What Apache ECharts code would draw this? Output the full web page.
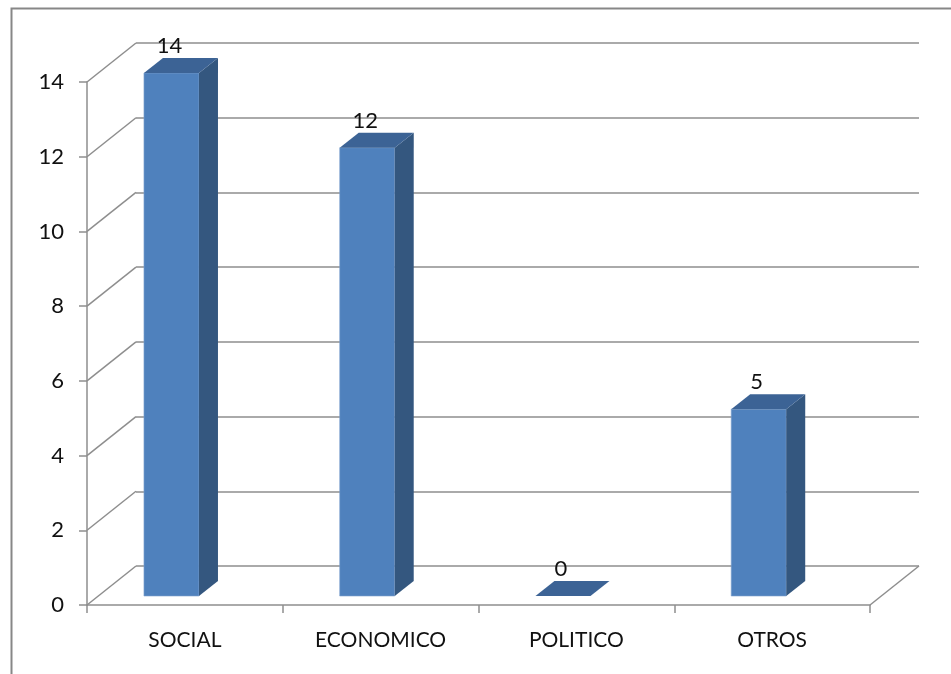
<!DOCTYPE html>
<html>
<head>
<meta charset="utf-8">
<script src="https://cdn.jsdelivr.net/npm/echarts@6/dist/echarts.min.js"></script>
<style>
  html, body { margin: 0; padding: 0; background: #ffffff; }
  #chart { width: 951px; height: 674px; }
</style>
</head>
<body>
<div id="chart"></div>
<script>
// Chart data
const categories = ['SOCIAL', 'ECONOMICO', 'POLITICO', 'OTROS'];
const values = [14, 12, 0, 5];
const yTicks = [0, 2, 4, 6, 8, 10, 12, 14];

const FONT = 'Lato';
const GRID_LINE = '#8e8e8e';
// Floor depth: offset from the front edge to the back wall, in pixels
const DEPTH = [49, -39];
// Box sides
const FACE = '#4f81bd', SIDE = '#34577f', TOP = '#3c6395';

const chart = echarts.init(document.getElementById('chart'), null, { renderer: 'canvas' });

const front = { left: 87, top: 82, right: 81, bottom: 69 };
const back = {
  left: front.left + DEPTH[0], top: front.top + DEPTH[1],
  right: front.right - DEPTH[0], bottom: front.bottom - DEPTH[1]
};

// Oblique lines from the front value axis to the back wall, plus the floor's right edge
function renderDiagonals(params, api) {
  const v = api.value(1);
  const band = api.size([1, 0])[0];
  const p = api.coord([0, v]);
  const x = p[0] - band / 2;
  const style = { stroke: GRID_LINE, lineWidth: 1.5 };
  const children = [{
    type: 'line',
    shape: { x1: x, y1: p[1], x2: x + DEPTH[0], y2: p[1] + DEPTH[1] },
    style
  }];
  if (v === 0) {
    const q = api.coord([categories.length - 1, 0]);
    const xr = q[0] + band / 2;
    children.push({
      type: 'line',
      shape: { x1: xr, y1: q[1], x2: xr + DEPTH[0], y2: q[1] + DEPTH[1] },
      style
    });
  }
  return { type: 'group', children };
}

// 3D column: front face, right side, top, and a value label
function renderBox(params, api) {
  const i = api.value(0), v = api.value(1);
  const band = api.size([1, 0])[0];
  const base = api.coord([i, 0]);
  const head = api.coord([i, v]);
  const lift = 9;               // column stands slightly behind the front edge
  const dx = 19, dy = -15;      // column depth
  const x0 = base[0] - band * 0.209;
  const x1 = x0 + band * 0.281;
  const yb = base[1] - lift, yt = head[1] - lift;
  const children = [];
  if (yb - yt > 0.5) {
    children.push({
      type: 'polygon',
      shape: { points: [[x0, yb], [x1, yb], [x1, yt], [x0, yt]] },
      style: { fill: FACE, stroke: '#7fa2cf', lineWidth: 0.6 }
    });
    children.push({
      type: 'polygon',
      shape: { points: [[x1, yb], [x1 + dx, yb + dy], [x1 + dx, yt + dy], [x1, yt]] },
      style: { fill: SIDE }
    });
  }
  children.push({
    type: 'polygon',
    shape: { points: [[x0, yt], [x1, yt], [x1 + dx, yt + dy], [x0 + dx, yt + dy]] },
    style: { fill: TOP }
  });
  children.push({
    type: 'text',
    style: {
      x: (x0 + x1) / 2 - 2, y: yt - 27,
      text: String(v), fill: '#111', font: '22px "' + FONT + '"',
      align: 'center', verticalAlign: 'middle'
    }
  });
  return { type: 'group', children };
}

const option = {
  backgroundColor: '#ffffff',
  animation: false,
  graphic: [{
    type: 'rect', left: 9, top: 6, silent: true, z: -10,
    shape: { width: 1200, height: 1000 },
    style: { fill: 'none', stroke: '#878787', lineWidth: 2 }
  }],
  grid: [
    { left: front.left, top: front.top, right: front.right, bottom: front.bottom },
    { left: back.left, top: back.top, right: back.right, bottom: back.bottom }
  ],
  xAxis: [
    {
      type: 'category', gridIndex: 0, data: categories,
      axisLine: { show: true, lineStyle: { color: GRID_LINE, width: 1.5 } },
      axisTick: { show: true, length: 8, lineStyle: { color: GRID_LINE, width: 1.5 } },
      axisLabel: { color: '#111', fontSize: 21, fontFamily: FONT, margin: 25 },
      splitLine: { show: false }
    },
    { type: 'value', gridIndex: 1, show: false, min: 0, max: 1 }
  ],
  yAxis: [
    {
      type: 'value', gridIndex: 0, min: 0, max: 14, interval: 2,
      axisLine: { show: true, lineStyle: { color: GRID_LINE, width: 1.5 } },
      axisTick: { show: true, length: 8, lineStyle: { color: GRID_LINE, width: 1.5 } },
      axisLabel: { color: '#111', fontSize: 22, fontFamily: FONT, margin: 23 },
      splitLine: { show: false }
    },
    {
      type: 'value', gridIndex: 1, min: 0, max: 14, interval: 2,
      axisLine: { show: false }, axisTick: { show: false }, axisLabel: { show: false },
      splitLine: { show: true, lineStyle: { color: GRID_LINE, width: 1.5 } }
    }
  ],
  series: [
    {
      type: 'custom', xAxisIndex: 0, yAxisIndex: 0, silent: true, z: 1,
      renderItem: renderDiagonals,
      data: yTicks.map(t => [0, t])
    },
    {
      type: 'custom', xAxisIndex: 0, yAxisIndex: 0, silent: true, z: 3,
      renderItem: renderBox,
      data: values.map((v, i) => [i, v])
    }
  ]
};

chart.setOption(option);
</script>
</body>
</html>
